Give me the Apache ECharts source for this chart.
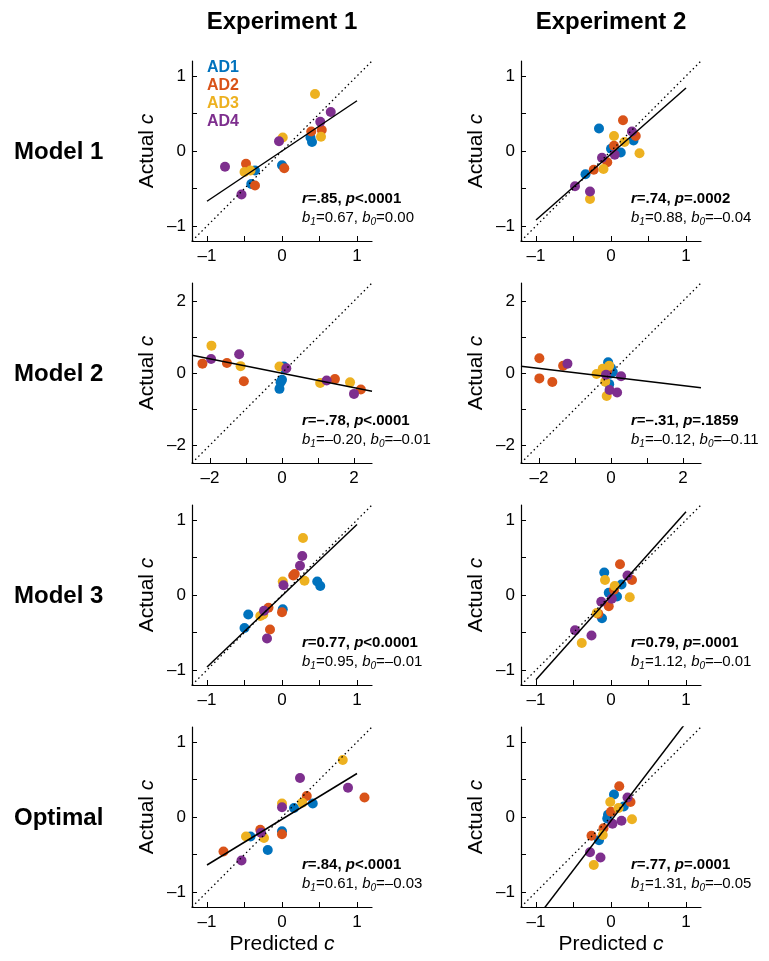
<!DOCTYPE html>
<html>
<head>
<meta charset="utf-8">
<script src="https://cdn.jsdelivr.net/npm/echarts@6/dist/echarts.min.js"></script>
<style>
  body { margin: 0; background: #fff; }
  #content { width: 769px; height: 961px; }
</style>
</head>
<body>
<div id="content"></div>
<script>
var FONT = "'Liberation Sans', Arial, sans-serif";

// groups, 5 points each, in this order
var groups = ['AD1', 'AD2', 'AD3', 'AD4'];
var groupColors = ['#0072BD', '#D95319', '#EDB120', '#7E2F8E'];

// actual c (same for every model of an experiment)
var exp1Actual = [0.18, 0.12, -0.19, -0.26, -0.44,  0.26, 0.28, -0.23, -0.17, -0.46,  0.76, 0.19, 0.18, -0.28, -0.26,  0.52, 0.39, 0.13, -0.21, -0.58];
var exp2Actual = [0.30, 0.14, 0.03, -0.02, -0.31,  0.41, 0.20, 0.07, -0.15, -0.25,  0.20, 0.12, -0.03, -0.24, -0.64,  0.26, -0.05, -0.09, -0.47, -0.54];

// predicted c, experiment 1
var exp1Model1 = [0.38, 0.40, 0.00, -0.36, -0.41,  0.39, 0.53, 0.03, -0.48, -0.36,  0.44, 0.52, 0.01, -0.50, -0.42,  0.65, 0.51, -0.04, -0.76, -0.54];
var exp1Model2 = [0.05, 0.08, 0.00, -0.04, -0.07,  -2.21, -1.53, -1.06, 1.47, 2.19,  -1.96, -1.15, -0.07, 1.06, 1.89,  -1.19, -1.97, 0.12, 1.24, 2.00];
var exp1Model3 = [0.47, 0.51, 0.01, -0.45, -0.50,  0.15, 0.17, 0.00, -0.18, -0.16,  0.28, 0.30, 0.01, -0.29, -0.25,  0.27, 0.24, 0.02, -0.24, -0.20];
var exp1Optimal = [0.41, 0.16, 0.00, -0.42, -0.19,  1.10, 0.33, 0.00, -0.29, -0.78,  0.81, 0.27, 0.00, -0.24, -0.48,  0.24, 0.88, 0.00, -0.28, -0.54];

// predicted c, experiment 2
var exp2Model1 = [-0.16, 0.30, 0.00, 0.13, -0.34,  0.16, 0.33, 0.04, -0.05, -0.23,  0.04, 0.18, 0.38, -0.10, -0.28,  0.28, 0.05, -0.12, -0.48, -0.28];
var exp2Model2 = [-0.08, 0.00, 0.05, -0.02, -0.05,  -1.99, -1.33, -0.10, -1.99, -1.63,  -0.05, -0.23, -0.40, -0.16, -0.12,  -1.21, -0.14, 0.28, -0.04, 0.17];
var exp2Model3 = [-0.09, 0.14, -0.03, 0.08, -0.12,  0.12, 0.28, 0.04, -0.03, -0.17,  -0.08, 0.05, 0.25, -0.19, -0.39,  0.22, 0.01, -0.13, -0.48, -0.26];
var exp2Optimal = [0.04, 0.17, -0.04, -0.05, -0.16,  0.11, 0.26, 0.00, -0.10, -0.26,  -0.01, 0.10, 0.28, -0.11, -0.23,  0.22, 0.14, 0.02, -0.28, -0.14];

// fit statistics, panel order: row by row, Experiment 1 then 2
var rVals = ['.85', '.74', '\u2013.78', '\u2013.31', '0.77', '0.79', '.84', '.77'];
var pVals = ['<.0001', '=.0002', '<.0001', '=.1859', '<0.0001', '=.0001', '<.0001', '=.0001'];
var slopes = [0.67, 0.88, -0.20, -0.12, 0.95, 1.12, 0.61, 1.31];
var intercepts = [0.00, -0.04, -0.01, -0.11, -0.01, -0.01, -0.03, -0.05];

var rowLabels = ['Model 1', 'Model 2', 'Model 3', 'Optimal'];
var colTitles = ['Experiment 1', 'Experiment 2'];

// axis ticks
var smallTicks = [-1, -0.5, 0, 0.5, 1];
var smallLabels = [-1, 0, 1];
var bigTicks = [-2, -1, 0, 1, 2];
var bigLabels = [-2, 0, 2];

var predicted = [exp1Model1, exp2Model1, exp1Model2, exp2Model2, exp1Model3, exp2Model3, exp1Optimal, exp2Optimal];

// layout
var colLeft = [192, 521];
var colZero = [282, 611];
var rowTop = [61, 283, 505, 727];
var size = 180;

function fmt(v) {
    var s = Math.abs(v).toFixed(2);
    return v < 0 ? '\u2013' + s : s;
}
function tickFmt(v) {
    return v < 0 ? '\u2013' + Math.abs(v) : String(v);
}

var ANN = 15;
function tok(extra) {
    var o = { fontSize: ANN, fontFamily: FONT, color: '#000', lineHeight: 19, fontWeight: 'normal', fontStyle: 'normal' };
    for (var key in extra) o[key] = extra[key];
    return o;
}

var grids = [], xAxes = [], yAxes = [], series = [], titles = [];

for (var k = 0; k < 8; k++) {
    var row = Math.floor(k / 2), col = k % 2;
    var big = row === 1;
    var lim = big ? 2.5 : 1.2;
    var actual = col === 0 ? exp1Actual : exp2Actual;
    var pred = predicted[k];

    grids.push({ left: colLeft[col], top: rowTop[row], width: size, height: size });

    var axisCommon = {
        gridIndex: k,
        type: 'value',
        min: -lim,
        max: lim,
        axisLine: { show: true, onZero: false, lineStyle: { color: '#000', width: 1.2 } },
        axisTick: { show: true, inside: true, length: 5, lineStyle: { color: '#000', width: 1 },
                    customValues: big ? bigTicks : smallTicks },
        axisLabel: { color: '#000', fontSize: 17, fontFamily: FONT,
                     customValues: big ? bigLabels : smallLabels },
        splitLine: { show: false }
    };

    var xa = JSON.parse(JSON.stringify(axisCommon));
    xa.axisLabel.formatter = tickFmt;
    xa.axisLabel.margin = 7;
    if (row === 3) {
        xa.name = 'Predicted {i|c}';
        xa.nameLocation = 'middle';
        xa.nameGap = 27;
        xa.nameTextStyle = { color: '#000', fontSize: 21, fontFamily: FONT,
                             rich: { i: { fontStyle: 'italic', fontSize: 21, fontFamily: FONT, color: '#000' } } };
    }
    xAxes.push(xa);

    var ya = JSON.parse(JSON.stringify(axisCommon));
    ya.axisLabel.formatter = tickFmt;
    ya.axisLabel.margin = 6;
    ya.name = 'Actual {i|c}';
    ya.nameLocation = 'middle';
    ya.nameGap = 34;
    ya.nameTextStyle = { color: '#000', fontSize: 21, fontFamily: FONT,
                         rich: { i: { fontStyle: 'italic', fontSize: 21, fontFamily: FONT, color: '#000' } } };
    yAxes.push(ya);

    // points
    for (var g = 0; g < groups.length; g++) {
        var pts = [];
        for (var j = 0; j < 5; j++) {
            pts.push([pred[g * 5 + j], actual[g * 5 + j]]);
        }
        series.push({
            name: groups[g], type: 'scatter', xAxisIndex: k, yAxisIndex: k,
            data: pts, symbolSize: 10, silent: true, z: 2,
            itemStyle: { color: groupColors[g], opacity: 1 }
        });
    }

    // identity line
    series.push({
        type: 'line', xAxisIndex: k, yAxisIndex: k, symbol: 'none', silent: true, z: 3,
        data: [[-lim, -lim], [lim, lim]],
        lineStyle: { color: '#000', width: 1.3, type: [1.5, 3] }
    });

    // fitted line
    var x0 = big ? -lim : -1, x1 = big ? lim : 1;
    series.push({
        type: 'line', xAxisIndex: k, yAxisIndex: k, symbol: 'none', silent: true, z: 4, clip: true,
        data: [[x0, slopes[k] * x0 + intercepts[k]], [x1, slopes[k] * x1 + intercepts[k]]],
        lineStyle: { color: '#000', width: 1.5 }
    });

    // statistics text
    var zeroY = rowTop[row] + size / 2;
    titles.push({
        left: colZero[col] + 20,
        top: zeroY + 38,
        padding: 0,
        text: '{bi|r}{b|=' + rVals[k] + ', }{bi|p}{b|' + pVals[k] + '}\n' +
              '{i|b}{s|1}{n|=' + fmt(slopes[k]) + ', }{i|b}{s|0}{n|=' + fmt(intercepts[k]) + '}',
        textStyle: {
            fontSize: ANN, fontFamily: FONT, color: '#000', lineHeight: 19, fontWeight: 'normal',
            rich: {
                bi: tok({ fontWeight: 'bold', fontStyle: 'italic' }),
                b: tok({ fontWeight: 'bold' }),
                i: tok({ fontStyle: 'italic' }),
                n: tok({}),
                s: tok({ fontStyle: 'italic', fontSize: 10, verticalAlign: 'bottom' })
            }
        }
    });
}

var graphics = [];
colTitles.forEach(function (t, c) {
    graphics.push({
        type: 'text', x: colZero[c], y: 22,
        style: { text: t, fill: '#000', fontSize: 24, fontWeight: 'bold', fontFamily: FONT,
                 textAlign: 'center', textVerticalAlign: 'middle' }
    });
});
rowLabels.forEach(function (t, r) {
    graphics.push({
        type: 'text', x: 14, y: rowTop[r] + size / 2 + 1,
        style: { text: t, fill: '#000', fontSize: 24, fontWeight: 'bold', fontFamily: FONT,
                 textAlign: 'left', textVerticalAlign: 'middle' }
    });
});
groups.forEach(function (t, g) {
    graphics.push({
        type: 'text', x: 207, y: 68 + g * 18,
        style: { text: t, fill: groupColors[g], fontSize: 16, fontWeight: 'bold', fontFamily: FONT,
                 textAlign: 'left', textVerticalAlign: 'middle' }
    });
});

var chart = echarts.init(document.getElementById('content'));
chart.setOption({
    animation: false,
    backgroundColor: '#fff',
    title: titles,
    grid: grids,
    xAxis: xAxes,
    yAxis: yAxes,
    series: series,
    graphic: graphics
});
</script>
</body>
</html>
